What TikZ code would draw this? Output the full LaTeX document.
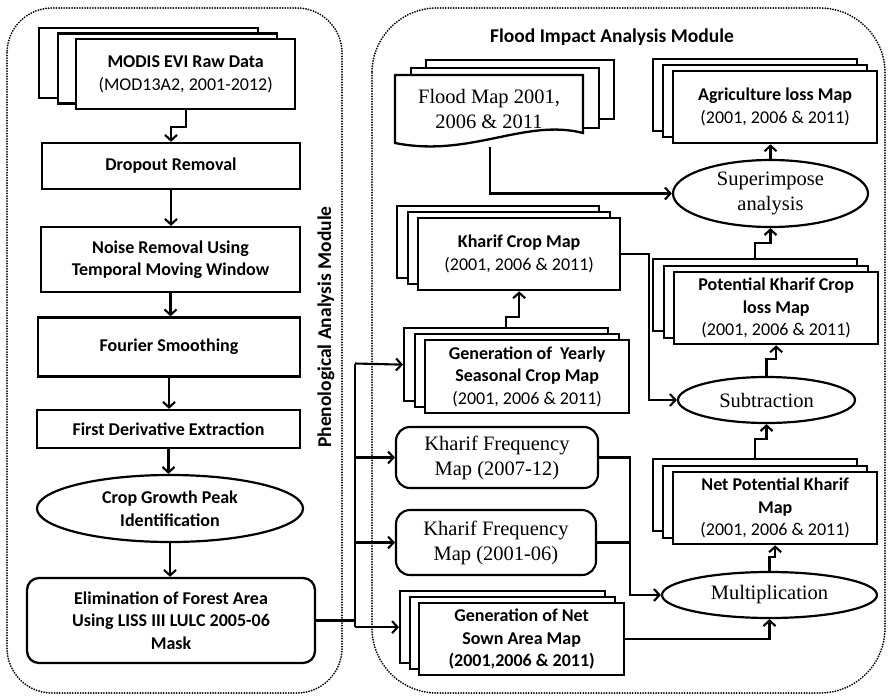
\documentclass[tikz,border=0pt]{standalone}
\usepackage{fontspec}
\setmainfont{Liberation Serif}
\newfontfamily\calfont{Carlito}
\usetikzlibrary{arrows.meta,calc,shapes.geometric}
\newcommand{\bfb}{\calfont\bfseries\fontsize{18}{22.5}\selectfont}
\newcommand{\bft}{\calfont\bfseries\fontsize{19.5}{22}\selectfont}
\newcommand{\bfl}{\calfont\bfseries\fontsize{19.5}{22}\selectfont}
\newcommand{\ser}{\rmfamily\fontsize{20.5}{25}\selectfont}
\newcommand{\stk}[8]{%
  \node[sheet, minimum width=#4, minimum height=#5] (#1-back) at (#2,#3) {};
  \node[sheet, minimum width=#4, minimum height=#5] (#1-mid) at ($(#2,#3)+(#6,#7)$) {};
  \node[sheet, minimum width=#4, minimum height=#5] (#1) at ($(#2,#3)+2*(#6,#7)$) {#8};
}
\begin{document}
\begin{tikzpicture}[x=1pt,y=-1pt,
  ln/.style={line width=2.2pt},
  arr/.style={line width=2.1pt, -{Straight Barb[length=5.5pt,width=12pt]}},
  dots/.style={line width=2pt, line cap=round, dash pattern=on 0pt off 2.6pt},
  sheet/.style={draw, line width=2.3pt, fill=white, anchor=north west, inner sep=2pt, font=\bfb, align=center},
  box/.style={draw, line width=2.3pt, fill=white, inner sep=2pt, font=\bfb, align=center},
  rbox/.style={draw, line width=2.1pt, fill=white, inner sep=2pt, font=\ser, align=center, rounded corners=14pt},
  ell/.style={draw, ellipse, line width=2.2pt, fill=white, inner sep=0pt, align=center, font=\ser}]
\useasboundingbox (0,0) rectangle (889,698);
\fill[white] (0,0) rectangle (889,698);

% module frames
\draw[dots, rounded corners=45pt] (7,8) rectangle (342,693);
\draw[dots, rounded corners=65pt] (372,8) rectangle (885,693);
\node[font=\bft] (title) at (612,37) {Flood Impact Analysis Module};
\node[font=\bfl, rotate=90] (plabel) at (326,327) {Phenological Analysis Module};

% ---------- left column ----------
\stk{modis}{38}{27}{219}{70}{18.5}{5.5}{MODIS EVI Raw Data\\{\mdseries (MOD13A2, 2001-2012)}}
\node[box, minimum width=258, minimum height=46] (drop) at (171,166) {Dropout Removal};
\node[box, minimum width=259, minimum height=65] (noise) at (170.5,259.5) {Noise Removal Using\\Temporal Moving Window};
\node[box, minimum width=262, minimum height=59] (four) at (169,347) {Fourier Smoothing};
\node[box, minimum width=263, minimum height=38] (fd) at (168.5,429) {First Derivative Extraction};
\node[ell, font=\bfb, minimum width=266, minimum height=67] (cgp) at (170,508.5) {Crop Growth Peak\\Identification};
\node[box, rounded corners=12pt, minimum width=288, minimum height=85] (elim) at (171,620.5) {Elimination of Forest Area\\Using LISS III LULC 2005-06\\Mask};

\draw[arr] (modis.south) -- ++(0,17) -| (drop.north);
\draw[arr] (drop.south) -- (drop.south |- noise.north);
\draw[arr] (noise.south) -- (noise.south |- four.north);
\draw[arr] (four.south) -- (four.south |- fd.north);
\draw[arr] (fd.south) -- (fd.south |- cgp.north);
\draw[arr] (cgp.south) -- (cgp.south |- elim.north);

% ---------- right module ----------
% flood map
\node[sheet, minimum width=188, minimum height=59] (fl-back) at (425,59) {};
\node[sheet, minimum width=188, minimum height=60] (fl-mid) at (410,67) {};
\draw[line width=2.3pt, fill=white] (395,75) -- (583,75) -- (583,133) .. controls (525,118) and (470,158) .. (395,143) -- cycle;
\node[font=\ser, align=center] (flood) at (489,109) {Flood Map 2001,\\2006 \& 2011};
\coordinate (fm-bot) at (490,147);

\stk{agri}{652}{58}{204}{72}{10}{6}{Agriculture loss Map\\{\mdseries (2001, 2006 \& 2011)}}
\node[ell, minimum width=195, minimum height=67] (sup) at (770.5,193.5) {Superimpose\\analysis};

\stk{kc}{396}{205}{202}{72}{10.5}{6}{Kharif Crop Map\\{\mdseries (2001, 2006 \& 2011)}}
\stk{pot}{652}{258}{204}{72}{10.5}{6.5}{Potential Kharif Crop\\loss Map\\{\mdseries (2001, 2006 \& 2011)}}
\stk{ys}{403}{327}{204}{73}{10.5}{6}{Generation of \ Yearly\\Seasonal Crop Map\\{\mdseries (2001, 2006 \& 2011)}}
\node[ell, minimum width=177, minimum height=46] (sub) at (766.5,400) {Subtraction};

\node[rbox, minimum width=202, minimum height=61] (kf1) at (497,457.5) {Kharif Frequency\\Map (2007-12)};
\stk{np}{652}{458}{204}{72}{10}{6.5}{Net Potential Kharif\\Map\\{\mdseries (2001, 2006 \& 2011)}}
\node[rbox, minimum width=200, minimum height=65] (kf2) at (496,542.5) {Kharif Frequency\\Map (2001-06)};
\node[ell, minimum width=215, minimum height=46] (mul) at (769.5,595) {Multiplication};
\stk{ns}{399}{590}{205}{72}{9.5}{6}{Generation of Net\\Sown Area Map\\(2001,2006 \& 2011)}

% connectors right module
\draw[arr] (fm-bot) |- (sup.west);
\draw[arr] (sup.north) -- (sup.north |- agri.south);
\draw[arr] (pot-back.north) -- ++(0,-15) -| (sup.south);
\draw[arr] (kc.east) -- ++(28,0) |- (sub.west);
\draw[arr] (ys-back.north) -- ++(0,-10) -| (kc.south);
\draw[arr] (sub.north) -- ++(0,-17) -| (pot.south);
\draw[arr] (np-back.north) -- ++(0,-19) -| (sub.south);
\draw[arr] (mul.north) -- ++(0,-14) -| (np.south);
\draw[arr] (kf1.east) -- ++(31,0) coordinate (kfx) |- (mul.west);
\draw[ln] (kf2.east) -- (kf2.east -| kfx);
\draw[arr] (ns.east) -| (mul.south);

% trunk from elimination
\coordinate (trtop) at (355,363.5);
\draw[ln] (elim.east) -- (elim.east -| trtop);
\draw[ln] (trtop) -- (trtop |- ns-back.west);
\draw[arr] (trtop) -- (ys-back.west);
\draw[arr] (trtop |- kf1.west) -- (kf1.west);
\draw[arr] (trtop |- kf2.west) -- (kf2.west);
\draw[arr] (trtop |- ns-back.west) -- (ns-back.west);
\end{tikzpicture}
\end{document}
